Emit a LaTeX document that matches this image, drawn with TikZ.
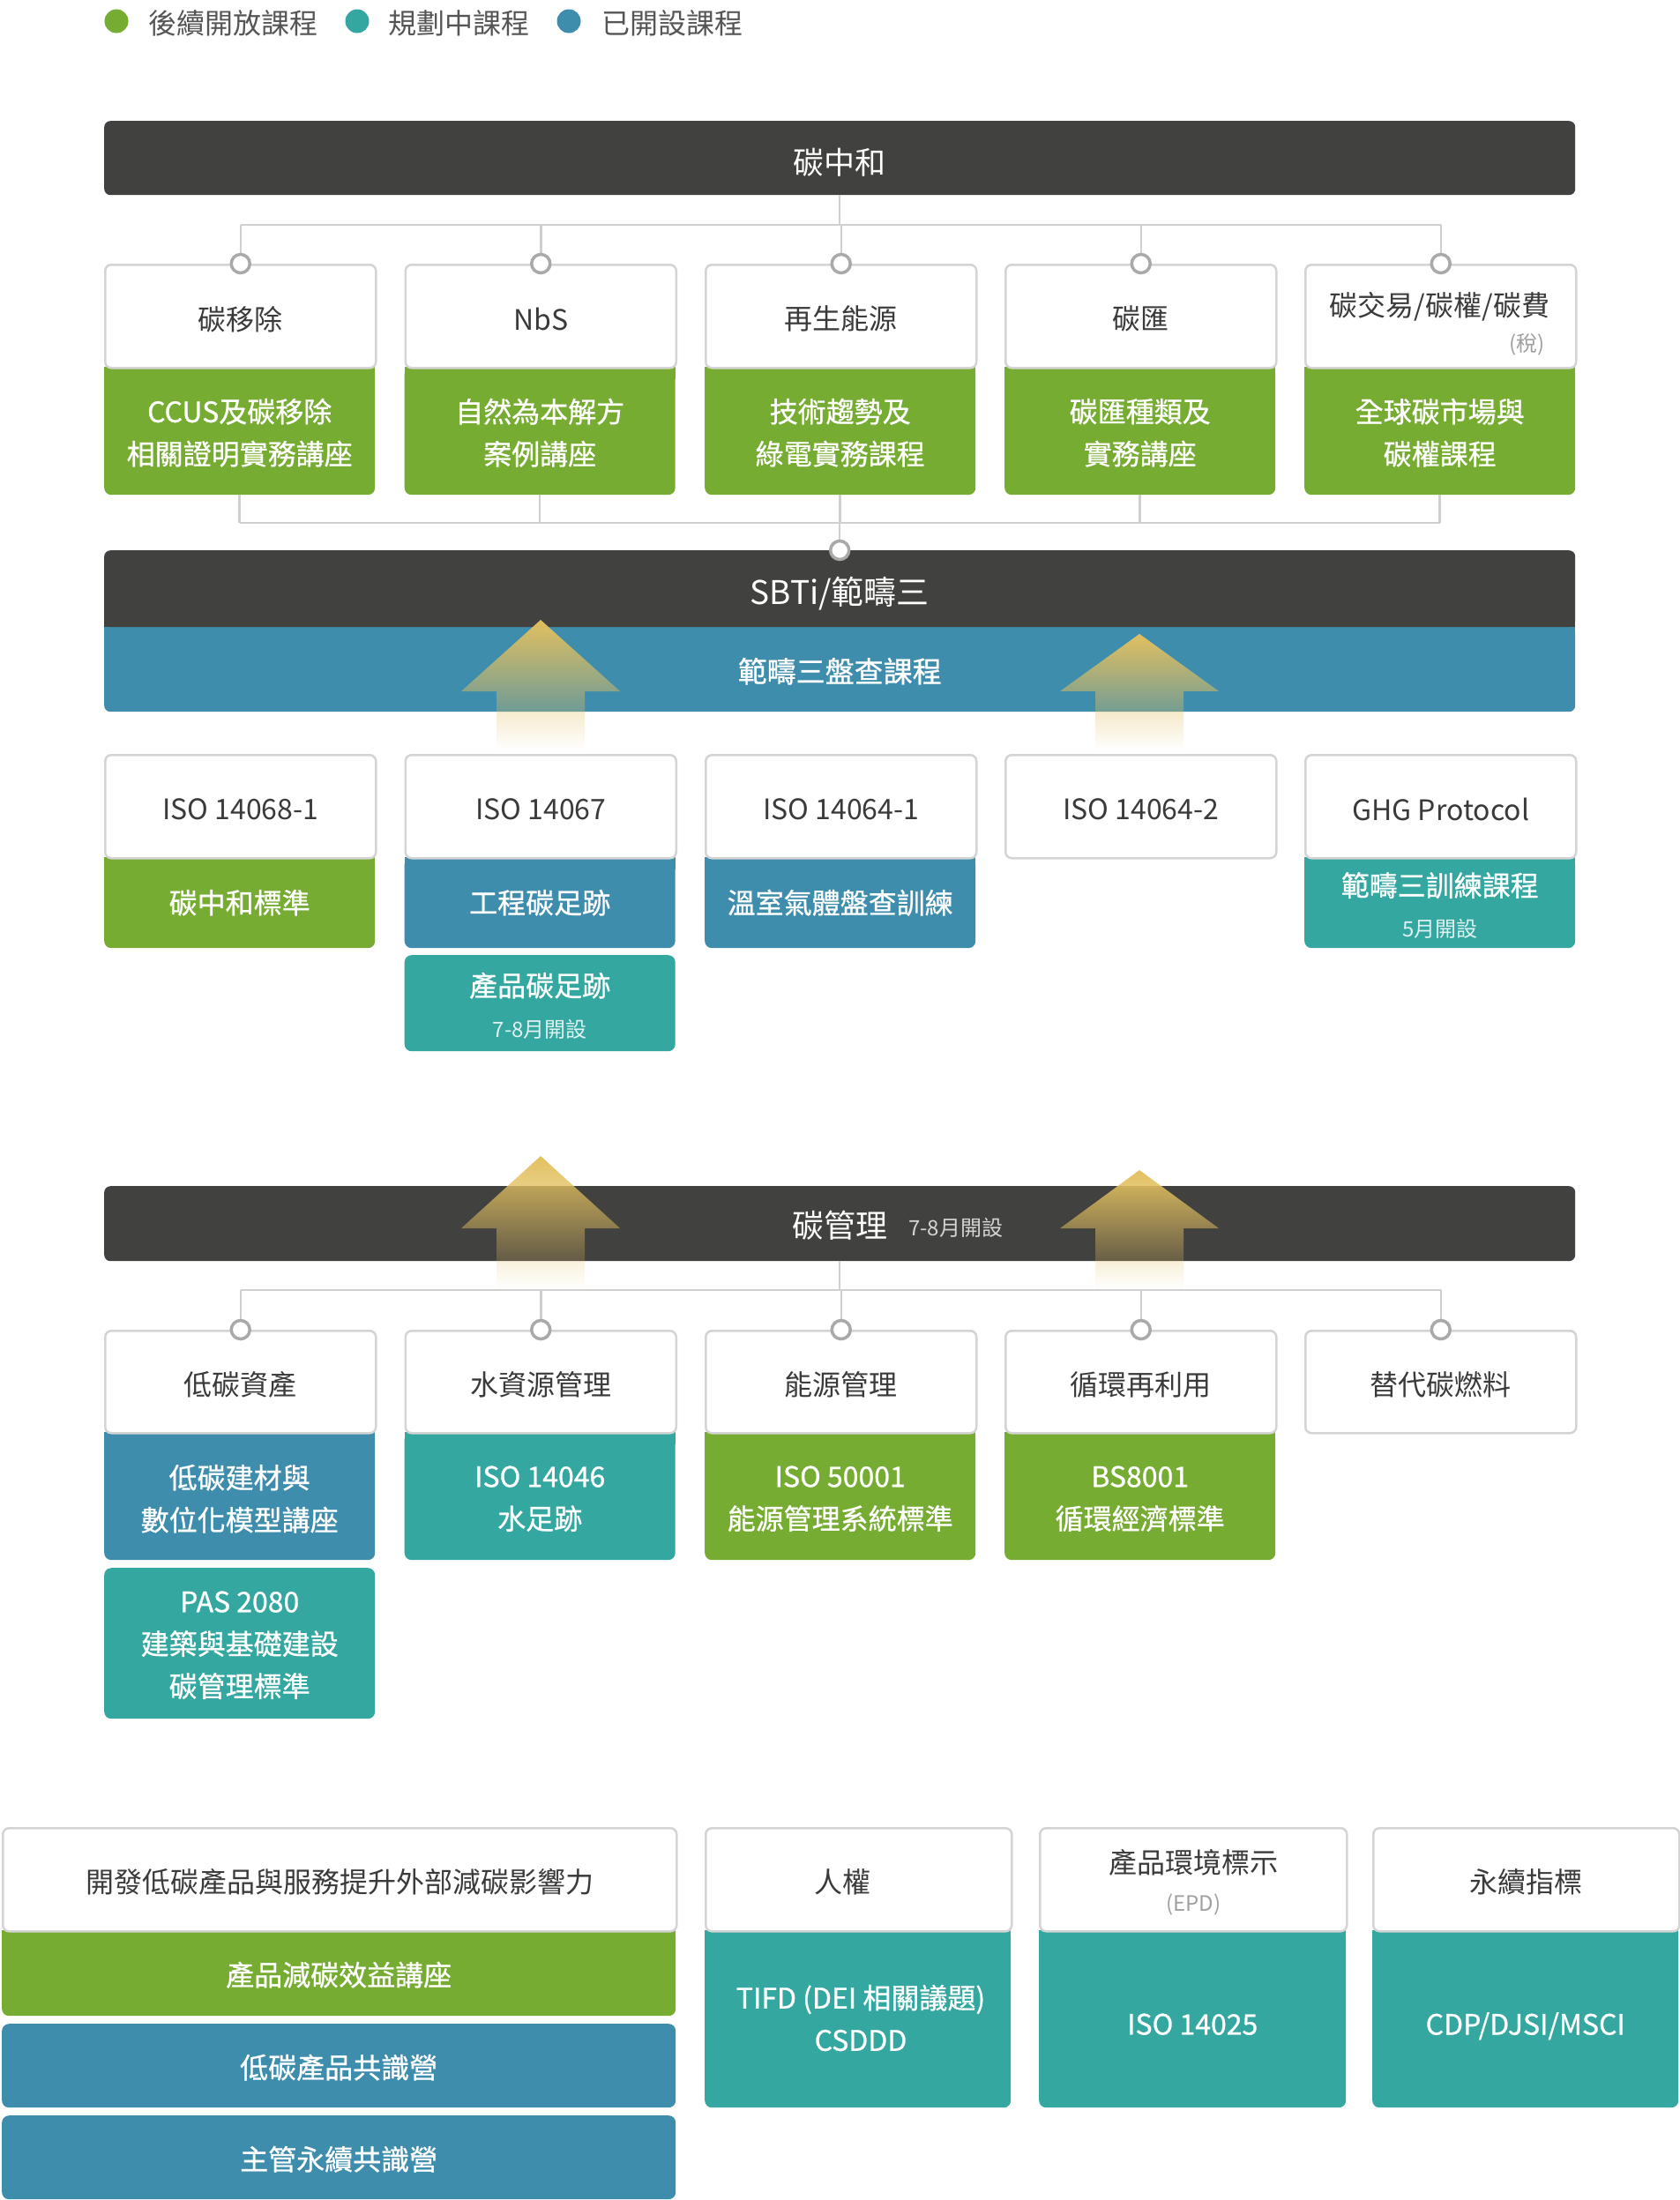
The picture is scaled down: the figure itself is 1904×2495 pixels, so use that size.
\documentclass[tikz,border=0pt]{standalone}
\usepackage{fontspec}
\setmainfont{Noto Sans CJK TC}
\newfontfamily\medf{Noto Sans CJK TC}[FakeBold=0.8]
\usetikzlibrary{fadings}
\tikzfading[name=arrowfade, top color=transparent!0, bottom color=transparent!100]
\definecolor{darkbar}{HTML}{41413F}
\definecolor{cgreen}{HTML}{76AC32}
\definecolor{cteal}{HTML}{33A7A0}
\definecolor{cblue}{HTML}{3F8DAD}
\definecolor{bordergray}{HTML}{D4D4D4}
\definecolor{linegray}{HTML}{CFCFCF}
\definecolor{dotgray}{HTML}{A9A9A9}
\definecolor{txtdark}{HTML}{3A3A3A}
\definecolor{txtgray}{HTML}{A0A0A0}
\definecolor{legtxt}{HTML}{555555}
\definecolor{agold}{HTML}{E3C060}
\tikzset{
  wpart/.style={draw=bordergray, line width=2.5pt, fill=white, rounded corners=7pt, anchor=north west, inner sep=0pt},
  cpart/.style={rounded corners=8pt, anchor=north west, inner sep=0pt},
  wtxt/.style={inner sep=0pt, align=center, text=txtdark, font=\fontsize{32}{46}\selectfont},
  ctxt/.style={inner sep=0pt, align=center, text=white, font=\medf\fontsize{32}{48}\selectfont},
  bar/.style={fill=darkbar, rounded corners=7pt, anchor=north west, inner sep=0pt, minimum width=1668pt},
  bartxt/.style={inner sep=0pt, text=white},
  conn/.style={draw=linegray, line width=2.5pt},
  knot/.style={circle, draw=dotgray, line width=3.5pt, fill=white, minimum size=21pt, inner sep=0pt},
  legdot/.style={circle, minimum size=27pt, inner sep=0pt},
  legtext/.style={anchor=west, text=legtxt, font=\fontsize{32}{36}\selectfont, inner sep=0pt},
  smalltxt/.style={inner sep=0pt, font=\fontsize{24}{28}\selectfont},
  arrowup/.style={fill=agold, path fading=arrowfade}
}
\def\cshift{-2pt}
\newcommand\pairbox[9]{%
  \pgfmathsetmacro\pbhw{#5-#4}%
  \pgfmathsetmacro\pbhc{#6-#5}%
  \fill[#7] (#2,#5) rectangle ({#2+#3},{#5+14});
  \node[cpart, fill=#7, minimum width=#3pt, minimum height=\pbhc pt] (#1c) at (#2,#5) {};
  \node[ctxt] (#1ct) at ([yshift=\cshift]#1c.center) {#9};
  \node[wpart, minimum width=#3pt, minimum height=\pbhw pt] (#1w) at (#2,#4) {};
  \node[wtxt] (#1wt) at ([yshift=-3pt]#1w.center) {#8};
}
\begin{document}
\begin{tikzpicture}[x=1pt,y=-1pt]
\useasboundingbox (0,0) rectangle (1904,2495);
\fill[white] (0,0) rectangle (1904,2495);

% legend
\node[legdot, fill=cgreen] (lg1) at (132,24) {};
\node[legtext] (lt1) at (168,26) {後續開放課程};
\node[legdot, fill=cteal] (lg2) at (405,24) {};
\node[legtext] (lt2) at (440,26) {規劃中課程};
\node[legdot, fill=cblue] (lg3) at (645,24) {};
\node[legtext] (lt3) at (682,26) {已開設課程};

% top bar
\node[bar, minimum height=84pt] (czh) at (118,137) {};
\node[bartxt, font=\fontsize{35}{40}\selectfont] (czht) at ([yshift=-5pt]czh.center) {碳中和};

% row 1
\pairbox{a1}{118}{307}{299}{416}{561}{cgreen}{碳移除}{CCUS及碳移除\\相關證明實務講座}
\pairbox{a2}{458.5}{307}{299}{416}{561}{cgreen}{NbS}{自然為本解方\\案例講座}
\pairbox{a3}{799}{307}{299}{416}{561}{cgreen}{再生能源}{技術趨勢及\\綠電實務課程}
\pairbox{a4}{1139}{307}{299}{416}{561}{cgreen}{碳匯}{碳匯種類及\\實務講座}
\pairbox{a5}{1479}{307}{299}{416}{561}{cgreen}{}{全球碳市場與\\碳權課程}
\node[wtxt] (a5t) at (1632.5,348) {碳交易/碳權/碳費};
\node[smalltxt, text=txtgray, anchor=east] (a5s) at (1752,391) {(稅)};

% SBTi bars
\fill[cblue] (118,711) rectangle (1786,725);
\node[bar, fill=cblue, minimum height=96pt] (sb3) at (118,711) {};
\node[bartxt, font=\medf\fontsize{33}{38}\selectfont] (sb3t) at ([yshift=-2pt]sb3.center) {範疇三盤查課程};
\fill[darkbar] (118,697) rectangle (1786,711);
\node[bar, minimum height=87pt] (sbt) at (118,624) {};
\node[bartxt, font=\fontsize{37}{42}\selectfont] (sbtt) at ([yshift=-5pt]sbt.center) {SBTi/範疇三};

% connectors row 1
\coordinate (h1) at (0,255);
\coordinate (h2) at (0,593);
\draw[conn] (czh.south) -- (czh.south |- h1);
\draw[conn] (a1w.north |- h1) -- (a5w.north |- h1);
\foreach \n in {a1,a2,a3,a4,a5} {
  \draw[conn] (\n w.north |- h1) -- (\n w.north);
  \draw[conn] (\n c.south) -- (\n c.south |- h2);
}
\draw[conn] (a1c.south |- h2) -- (a5c.south |- h2);
\draw[conn] (sbt.north |- h2) -- (sbt.north);
\foreach \n in {a1,a2,a3,a4,a5} \node[knot] (k\n) at (\n w.north) {};
\node[knot] (ksbt) at (sbt.north) {};

% arrows over SBTi
\fill[arrowup] (613,703) -- (703,784) -- (663,784) -- (663,851) -- (563,851) -- (563,784) -- (523,784) -- cycle;
\fill[arrowup] (1292,719) -- (1382,784) -- (1342,784) -- (1342,851) -- (1242,851) -- (1242,784) -- (1202,784) -- cycle;

% row 2
\def\cshift{0pt}
\pairbox{b1}{118}{307}{855}{972}{1075}{cgreen}{ISO 14068-1}{碳中和標準}
\pairbox{b2}{458.5}{307}{855}{972}{1075}{cblue}{ISO 14067}{工程碳足跡}
\pairbox{b3}{799}{307}{855}{972}{1075}{cblue}{ISO 14064-1}{溫室氣體盤查訓練}
\node[wpart, minimum width=307pt, minimum height=117pt] (b4w) at (1139,855) {};
\node[wtxt] (b4wt) at ([yshift=-3pt]b4w.center) {ISO 14064-2};
\def\cshift{-3pt}
\pairbox{b5}{1479}{307}{855}{972}{1075}{cteal}{GHG Protocol}{範疇三訓練課程\\[-2pt]{\normalfont\fontsize{24}{28}\selectfont\color{white!85!cteal}5月開設}}
\node[cpart, fill=cteal, minimum width=307pt, minimum height=109pt] (b2x) at (458.5,1083) {};
\node[ctxt] (b2xt) at ([yshift=-3pt]b2x.center) {產品碳足跡\\[-1pt]{\normalfont\fontsize{24}{28}\selectfont\color{white!85!cteal}7-8月開設}};

% carbon management bar
\node[bar, minimum height=85pt] (cgl) at (118,1345) {};
\node[bartxt, font=\fontsize{36}{40}\selectfont] (cglt) at (952.5,1390) {碳管理};
\node[smalltxt, text=white!78!darkbar, anchor=west] (cgls) at (1030,1392) {7-8月開設};

% arrows over 碳管理
\fill[arrowup] (613,1311) -- (703,1393) -- (663,1393) -- (663,1462) -- (563,1462) -- (563,1393) -- (523,1393) -- cycle;
\fill[arrowup] (1292,1327) -- (1382,1393) -- (1342,1393) -- (1342,1462) -- (1242,1462) -- (1242,1393) -- (1202,1393) -- cycle;

% row 3
\def\cshift{-3pt}
\pairbox{c1}{118}{307}{1508}{1624}{1769}{cblue}{低碳資產}{低碳建材與\\數位化模型講座}
\pairbox{c2}{458.5}{307}{1508}{1624}{1769}{cteal}{水資源管理}{ISO 14046\\水足跡}
\pairbox{c3}{799}{307}{1508}{1624}{1769}{cgreen}{能源管理}{ISO 50001\\能源管理系統標準}
\pairbox{c4}{1139}{307}{1508}{1624}{1769}{cgreen}{循環再利用}{BS8001\\循環經濟標準}
\node[wpart, minimum width=307pt, minimum height=116pt] (c5w) at (1479,1508) {};
\node[wtxt] (c5wt) at ([yshift=-3pt]c5w.center) {替代碳燃料};
\node[cpart, fill=cteal, minimum width=307pt, minimum height=171pt] (c1x) at (118,1778) {};
\node[ctxt] (c1xt) at ([yshift=-2pt]c1x.center) {PAS 2080\\建築與基礎建設\\碳管理標準};

% connectors row 3
\coordinate (h3) at (0,1463);
\draw[conn] (cgl.south) -- (cgl.south |- h3);
\draw[conn] (c1w.north |- h3) -- (c5w.north |- h3);
\foreach \n in {c1,c2,c3,c4,c5} \draw[conn] (\n w.north |- h3) -- (\n w.north);
\foreach \n in {c1,c2,c3,c4,c5} \node[knot] (k\n) at (\n w.north) {};

% bottom section
\def\cshift{-2pt}
\pairbox{d1}{2}{764}{2072}{2189}{2286}{cgreen}{開發低碳產品與服務提升外部減碳影響力}{產品減碳效益講座}
\node[cpart, fill=cblue, minimum width=764pt, minimum height=95pt] (d1x) at (2,2295) {};
\node[ctxt] (d1xt) at ([yshift=-2pt]d1x.center) {低碳產品共識營};
\node[cpart, fill=cblue, minimum width=764pt, minimum height=95pt] (d1y) at (2,2399) {};
\node[ctxt] (d1yt) at ([yshift=-2pt]d1y.center) {主管永續共識營};
\pairbox{d2}{799}{347}{2072}{2189}{2390}{cteal}{}{}
\node[wtxt] (d2t) at (955.5,2134) {人權};
\node[ctxt] (d2ct) at (976,2288.5) {TIFD (DEI 相關議題)\\CSDDD};
\def\cshift{-6pt}
\pairbox{d3}{1178}{348}{2072}{2189}{2390}{cteal}{產品環境標示\\[-3pt]{\fontsize{24}{28}\selectfont\color{txtgray}(EPD)}}{ISO 14025}
\def\cshift{-8pt}
\pairbox{d4}{1556}{347}{2072}{2189}{2390}{cteal}{永續指標}{CDP/DJSI/MSCI}
\end{tikzpicture}
\end{document}
